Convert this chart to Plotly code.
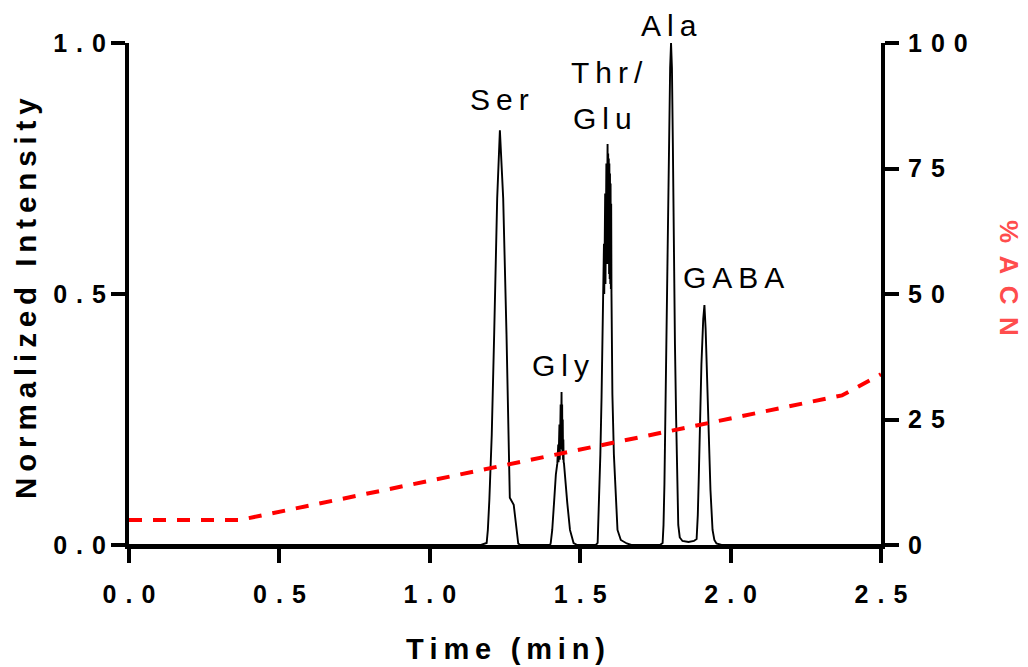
import plotly.graph_objects as go

# Chromatogram trace: retention time (min) and normalized detector intensity
time_min = [
    0.000, 1.170,
    # Ser
    1.189, 1.193, 1.198, 1.206, 1.214, 1.224, 1.233, 1.244, 1.255, 1.261, 1.266,
    1.279, 1.294, 1.300,
    # Gly
    1.400, 1.402, 1.407, 1.413, 1.419, 1.424,
    1.425, 1.426, 1.427, 1.428, 1.429, 1.430, 1.431, 1.432, 1.433, 1.434,
    1.435, 1.436, 1.437, 1.438, 1.439, 1.440, 1.441, 1.442, 1.443, 1.444,
    1.445, 1.446,
    1.451, 1.457, 1.466, 1.478, 1.490,
    # Thr / Glu
    1.552, 1.558, 1.563, 1.567, 1.571, 1.575, 1.578,
    1.579, 1.580, 1.581, 1.582, 1.583, 1.584, 1.585, 1.586, 1.587, 1.588,
    1.589, 1.590, 1.591, 1.592, 1.593, 1.594, 1.595, 1.596, 1.597, 1.598,
    1.599, 1.600, 1.601, 1.602, 1.603, 1.604,
    1.607, 1.612, 1.618, 1.624, 1.635, 1.655, 1.670,
    # Ala
    1.765, 1.774, 1.777, 1.780, 1.783, 1.786, 1.790, 1.795, 1.799, 1.802,
    1.805, 1.808, 1.811, 1.815, 1.819, 1.823, 1.826, 1.831, 1.840, 1.860, 1.878,
    # GABA
    1.887, 1.891, 1.894, 1.897, 1.903, 1.909, 1.913,
    1.917, 1.921, 1.926, 1.933, 1.940, 1.946, 1.953, 1.970, 2.500,
]
intensity = [
    0.000, 0.000,
    0.004, 0.030, 0.090, 0.220, 0.420, 0.690, 0.826, 0.690, 0.420, 0.220, 0.094,
    0.080, 0.003, 0.000,
    0.000, 0.004, 0.030, 0.084, 0.140, 0.163,
    0.180, 0.165, 0.200, 0.165, 0.220, 0.170, 0.240, 0.170, 0.260, 0.180,
    0.280, 0.190, 0.295, 0.305, 0.190, 0.280, 0.180, 0.250, 0.170, 0.210,
    0.165, 0.163,
    0.120, 0.084, 0.030, 0.004, 0.000,
    0.000, 0.004, 0.096, 0.180, 0.295, 0.420, 0.500,
    0.600, 0.500, 0.660, 0.520, 0.700, 0.520, 0.730, 0.540, 0.760, 0.560,
    0.780, 0.580, 0.799, 0.580, 0.780, 0.560, 0.770, 0.540, 0.760, 0.530,
    0.740, 0.520, 0.720, 0.510, 0.680, 0.500,
    0.300, 0.180, 0.096, 0.030, 0.010, 0.003, 0.000,
    0.000, 0.004, 0.040, 0.120, 0.250, 0.450, 0.650, 0.820, 0.950, 1.000,
    0.950, 0.800, 0.570, 0.400, 0.250, 0.120, 0.040, 0.015, 0.008, 0.006, 0.008,
    0.012, 0.060, 0.130, 0.236, 0.360, 0.450, 0.478,
    0.430, 0.340, 0.236, 0.110, 0.030, 0.010, 0.003, 0.000, 0.000,
]

# Mobile-phase gradient (% acetonitrile)
gradient_time = [0.00, 0.37, 2.37, 2.50]
gradient_acn = [5.0, 5.0, 29.8, 34.0]

# Peak labels: name, retention time, label height (intensity units)
peak_names = ["Ser", "Gly", "Thr/", "Glu", "Ala", "GABA"]
peak_label_x = [1.233, 1.433, 1.588, 1.574, 1.794, 2.011]
peak_label_y = [0.888, 0.357, 0.941, 0.849, 1.035, 0.532]

x_ticks = [0.0, 0.5, 1.0, 1.5, 2.0, 2.5]
x_tick_labels = ["0.0", "0.5", "1.0", "1.5", "2.0", "2.5"]
y_ticks = [0.0, 0.5, 1.0]
y_tick_labels = ["0.0", "0.5", "1.0"]
acn_ticks = [0, 25, 50, 75, 100]
acn_tick_labels = ["0", "25", "50", "75", "100"]

FONT = "Liberation Sans, Arial, sans-serif"
THIN = "\u2009"
HAIR = "\u200a"
PLOT_H = 502  # height of the plotting area in px


def spaced(text, gap=THIN):
    """Letter-spaced text, as drawn by the plotting program."""
    return gap.join(text)


TICK_GAP = " " + HAIR
tick_font = dict(family=FONT, size=25, color="black", weight="bold")

fig = go.Figure()
fig.add_trace(go.Scatter(
    x=time_min, y=intensity, mode="lines",
    line=dict(color="black", width=1.9), yaxis="y", showlegend=False,
))
fig.add_trace(go.Scatter(
    x=gradient_time, y=gradient_acn, mode="lines",
    line=dict(color="#ff0000", width=4, dash="13px,11px"), yaxis="y2",
    showlegend=False,
))

axis_common = dict(
    showline=True, linewidth=4, linecolor="black", mirror=False,
    ticks="outside", ticklen=14, tickwidth=4, tickcolor="black",
    showgrid=False, zeroline=False, tickfont=tick_font, fixedrange=True,
)

fig.update_layout(
    width=1028, height=667,
    margin=dict(l=129, r=147, t=43, b=122, pad=0),
    paper_bgcolor="white", plot_bgcolor="white",
    xaxis=dict(range=[0, 2.5], tickvals=x_ticks,
               ticktext=[spaced(t, TICK_GAP) for t in x_tick_labels],
               ticklabelstandoff=10, **axis_common),
    yaxis=dict(range=[0, 1], tickvals=y_ticks,
               ticktext=[spaced(t, TICK_GAP) for t in y_tick_labels],
               **axis_common),
    yaxis2=dict(range=[0, 100], overlaying="y", side="right", anchor="x",
                tickvals=acn_ticks,
                ticktext=[spaced(t, TICK_GAP) for t in acn_tick_labels],
                ticklabelstandoff=4, **axis_common),
)

annotations = []
for name, px_, py_ in zip(peak_names, peak_label_x, peak_label_y):
    # labels above the top of the axis are anchored at the top edge and shifted up
    y_anchor = min(py_, 1.0)
    annotations.append(dict(
        x=px_, y=y_anchor, xref="x", yref="y", yshift=(py_ - y_anchor) * PLOT_H,
        text=spaced(name), showarrow=False, xanchor="center", yanchor="middle",
        font=dict(family=FONT, size=30, color="black"),
    ))

annotations.append(dict(
    x=0.5, y=0, xref="paper", yref="paper", yshift=-104,
    text=spaced("Time (min)"), showarrow=False,
    xanchor="center", yanchor="middle",
    font=dict(family=FONT, size=29, color="black", weight="bold"),
))
annotations.append(dict(
    x=0, y=0.49, xref="paper", yref="paper", xshift=-104,
    text=spaced("Normalized Intensity"), textangle=-90, showarrow=False,
    xanchor="center", yanchor="middle",
    font=dict(family=FONT, size=29.5, color="black", weight="bold"),
))
annotations.append(dict(
    x=1, y=0.532, xref="paper", yref="paper", xshift=128,
    text=spaced("%ACN", " " + THIN), textangle=90, showarrow=False,
    xanchor="center", yanchor="middle",
    font=dict(family=FONT, size=26, color="#ff4d4d", weight="bold"),
))
fig.update_layout(annotations=annotations)

fig.write_html("out.html")
